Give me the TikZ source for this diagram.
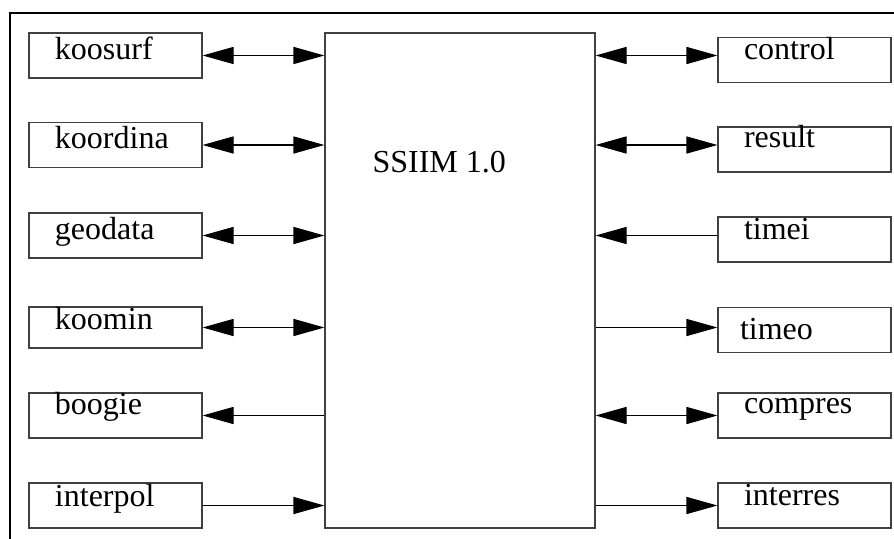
\documentclass[tikz,border=0pt]{standalone}
\usepackage{fontspec}
\setmainfont{Liberation Serif}
\usetikzlibrary{arrows.meta,positioning}

\begin{document}
\begin{tikzpicture}[x=0.375pt,y=-0.375pt,file/.style={rectangle,draw=black!75,line width=.45pt,inner xsep=9.75pt,inner ysep=0pt,text width=45.375pt,align=left,text height=9.75pt,text depth=7.125pt},rfile/.style={file,text height=8.25pt,text depth=8.625pt},core/.style={rectangle,draw=black!75,line width=.45pt,minimum width=101.25pt,minimum height=185.625pt},link/.style={line width=.4pt,{Triangle[length=11.6pt,width=6.4pt]}-{Triangle[length=11.6pt,width=6.4pt]}},flow/.style={line width=.4pt,-{Triangle[length=11.6pt,width=6.4pt]}},every node/.style={font=\fontsize{12}{14}\selectfont}]
\useasboundingbox (0,0) rectangle (894,539);
\draw[line width=.8pt] (10,539)--(10,13)--(894,13);
\node[core] (ssiim) at (460,280.5) {};
\node[anchor=base west,inner sep=0pt] (title) at (372,172) {SSIIM 1.0};
\node[file] (koosurf) at (115.5,55.5) {koosurf};
\node[file] (koordina) at (115.5,145) {koordina};
\node[file] (geodata) at (115.5,235.5) {geodata};
\node[file,text height=8.25pt,text depth=7.125pt] (koomin) at (115.5,327.5) {koomin};
\node[file,text height=7.875pt,text depth=9pt] (boogie) at (115.5,415.5) {boogie};
\node[file,text height=8.625pt,text depth=8.25pt] (interpol) at (115.5,505.5) {interpol};
\node[rfile] (control) at (804.5,60) {control};
\node[rfile,text height=7.875pt,text depth=9pt] (result) at (804.5,149.5) {result};
\node[rfile] (timei) at (804.5,239.5) {timei};
\node[rfile,inner xsep=8.25pt,text width=48.375pt,text height=12pt,text depth=4.875pt] (timeo) at (804.5,330) {timeo};
\node[rfile,text height=7.5pt,text depth=9.375pt] (compres) at (804.5,415.5) {compres};
\node[rfile] (interres) at (804.5,505.5) {interres};
\draw[link] (koosurf.east)--(koosurf.east-|ssiim.west);
\draw[link] (koordina.east)--(koordina.east-|ssiim.west);
\draw[link] (geodata.east)--(geodata.east-|ssiim.west);
\draw[link] (koomin.east)--(koomin.east-|ssiim.west);
\draw[flow] (boogie.east-|ssiim.west)--(boogie.east);
\draw[flow] (interpol.east)--(interpol.east-|ssiim.west);
\draw[link] (ssiim.east|-koosurf)--(control.west|-koosurf);
\draw[link] (ssiim.east|-koordina)--(result.west|-koordina);
\draw[flow] (timei.west|-geodata)--(ssiim.east|-geodata);
\draw[flow] (ssiim.east|-koomin)--(timeo.west|-koomin);
\draw[link] (ssiim.east|-boogie)--(compres.west|-boogie);
\draw[flow] (ssiim.east|-interpol)--(interres.west|-interpol);
\end{tikzpicture}
\end{document}
